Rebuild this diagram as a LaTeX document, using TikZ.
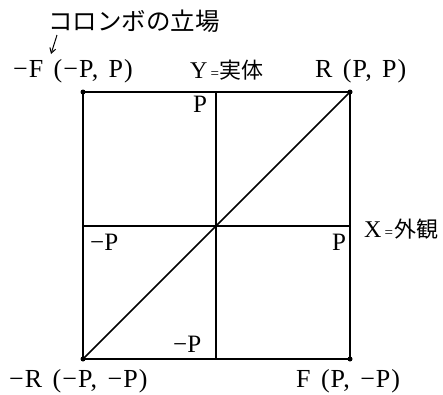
\documentclass[tikz,border=0pt]{standalone}
\usepackage{fontspec}
\setmainfont{Liberation Serif}
\newfontfamily\jpfont{Noto Sans CJK JP}
\newfontfamily\spacedfont[LetterSpace=4]{Liberation Serif}
\newcommand\outerlabfont{\spacedfont\fontsize{26}{28}\selectfont\spaceskip=0.4em plus 0pt minus 0pt\relax}
\newcommand\smalleq{{\fontsize{15}{18}\selectfont=}}
\newcommand\axiskanji[1]{{\jpfont\fontsize{22}{24}\selectfont #1}}
\usetikzlibrary{arrows.meta}
\begin{document}
\begin{tikzpicture}[x=1pt,y=-1pt,
  frame/.style={line width=1.6pt},
  cornerdot/.style={circle,fill,inner sep=0pt,minimum size=5pt},
  outerlab/.style={inner sep=0pt,anchor=base west,font=\outerlabfont},
  innerlab/.style={inner sep=0pt,anchor=base west,font=\fontsize{25}{28}\selectfont},
  axislab/.style={inner sep=0pt,anchor=base west,font=\fontsize{24}{28}\selectfont},
  jplab/.style={inner sep=0pt,anchor=base west,font=\jpfont\fontsize{24.5}{28}\selectfont}
]
\useasboundingbox (0,0) rectangle (443,394);
% corners and axis points
\coordinate (tl) at (83,92);
\coordinate (tr) at (350,92);
\coordinate (bl) at (83,359);
\coordinate (br) at (350,359);
\coordinate (tm) at (216,92);
\coordinate (bm) at (216,359);
\coordinate (lm) at (83,226);
\coordinate (rm) at (350,226);
% frame and axes
\draw[frame] (tl) rectangle (br);
\draw[frame] (tm) -- (bm);
\draw[frame] (lm) -- (rm);
\draw[frame] (bl) -- (tr);
\foreach \c in {tl,tr,bl,br} \node[cornerdot] at (\c) {};
% title and arrow
\node[jplab] (title) at (48,30) {コロンボの立場};
\coordinate (arrS) at (57,35);
\coordinate (arrE) at (51,54);
\draw[line width=1pt,-{Straight Barb[length=5pt,width=6pt]}] (arrS) -- (arrE);
% outer labels
\node[outerlab] (mF) at (13,77) {−F (−P, P)};
\node[axislab] (Y) at (190,78) {Y\kern3pt\smalleq\kern1pt\axiskanji{実体}};
\node[outerlab] (R) at (315,77) {R (P, P)};
\node[axislab] (X) at (364,237) {X\kern3pt\smalleq\kern1pt\axiskanji{外観}};
\node[outerlab] (mR) at (9,387) {−R (−P, −P)};
\node[outerlab] (F) at (296,387) {F (P, −P)};
% inner labels
\node[innerlab] (pt) at (193,112) {P};
\node[innerlab] (ml) at (90,250) {−P};
\node[innerlab] (pr) at (332,250) {P};
\node[innerlab] (mb) at (173,352) {−P};
\end{tikzpicture}
\end{document}
